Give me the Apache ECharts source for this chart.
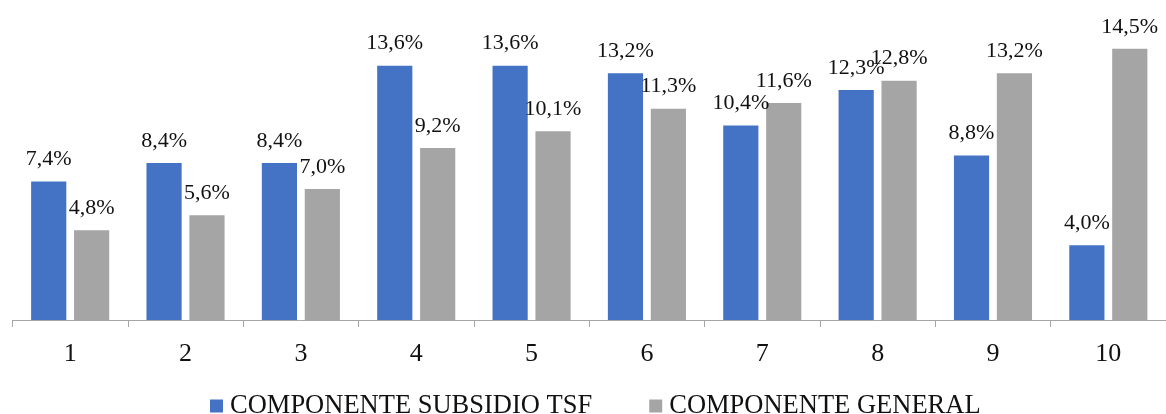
<!DOCTYPE html>
<html>
<head>
<meta charset="utf-8">
<script src="https://cdn.jsdelivr.net/npm/echarts@6/dist/echarts.min.js"></script>
<style>
  html, body { margin: 0; padding: 0; background: #fff; overflow: hidden; }
  #chart { width: 1166px; height: 414px; }
</style>
</head>
<body>
<div id="chart"></div>
<script>
// Deciles 1..10 and the share of each component (%)
const categories = ['1', '2', '3', '4', '5', '6', '7', '8', '9', '10'];
const seriesNames = ['COMPONENTE SUBSIDIO TSF', 'COMPONENTE GENERAL'];
const subsidioTSF = [7.4, 8.4, 8.4, 13.6, 13.6, 13.2, 10.4, 12.3, 8.8, 4.0];
const general = [4.8, 5.6, 7.0, 9.2, 10.1, 11.3, 11.6, 12.8, 13.2, 14.5];

const FONT = '"Liberation Serif", "Times New Roman", serif';
const TEXT = '#111111';

// Values are shown with a decimal comma
const fmt = p => p.value.toFixed(1).replace('.', ',') + '%';

const labelStyle = {
  show: true,
  position: 'top',
  distance: 11,
  formatter: fmt,
  fontFamily: FONT,
  fontSize: 22,
  color: TEXT
};

const chart = echarts.init(document.getElementById('chart'), null, { renderer: 'canvas' });
chart.setOption({
  animation: false,
  textStyle: { fontFamily: FONT },
  // the plot runs slightly past the right edge of the canvas
  grid: { left: 12.5, right: -9.5, top: 20.8, bottom: 94 },
  legend: {
    top: 392.5,
    left: 210,
    padding: 0,
    itemWidth: 13,
    itemHeight: 13,
    itemGap: 57,
    icon: 'rect',
    textStyle: { fontFamily: FONT, fontSize: 26.5, color: TEXT, padding: [0, 0, 0, 2] },
    data: seriesNames
  },
  xAxis: {
    type: 'category',
    data: categories,
    axisLine: { lineStyle: { color: '#a6a6a6', width: 1 } },
    axisTick: { show: true, length: 7, lineStyle: { color: '#a6a6a6' } },
    axisLabel: { fontFamily: FONT, fontSize: 26, color: TEXT, margin: 21 }
  },
  yAxis: {
    type: 'value',
    min: 0,
    max: 16,
    show: false,
    splitLine: { show: false }
  },
  series: [
    {
      name: seriesNames[0],
      type: 'bar',
      data: subsidioTSF,
      barWidth: '30.5%',
      barGap: '22%',
      itemStyle: { color: '#4472C4' },
      label: labelStyle
    },
    {
      name: seriesNames[1],
      type: 'bar',
      data: general,
      barWidth: '30.5%',
      itemStyle: { color: '#A5A5A5' },
      label: labelStyle
    }
  ]
});
</script>
</body>
</html>
